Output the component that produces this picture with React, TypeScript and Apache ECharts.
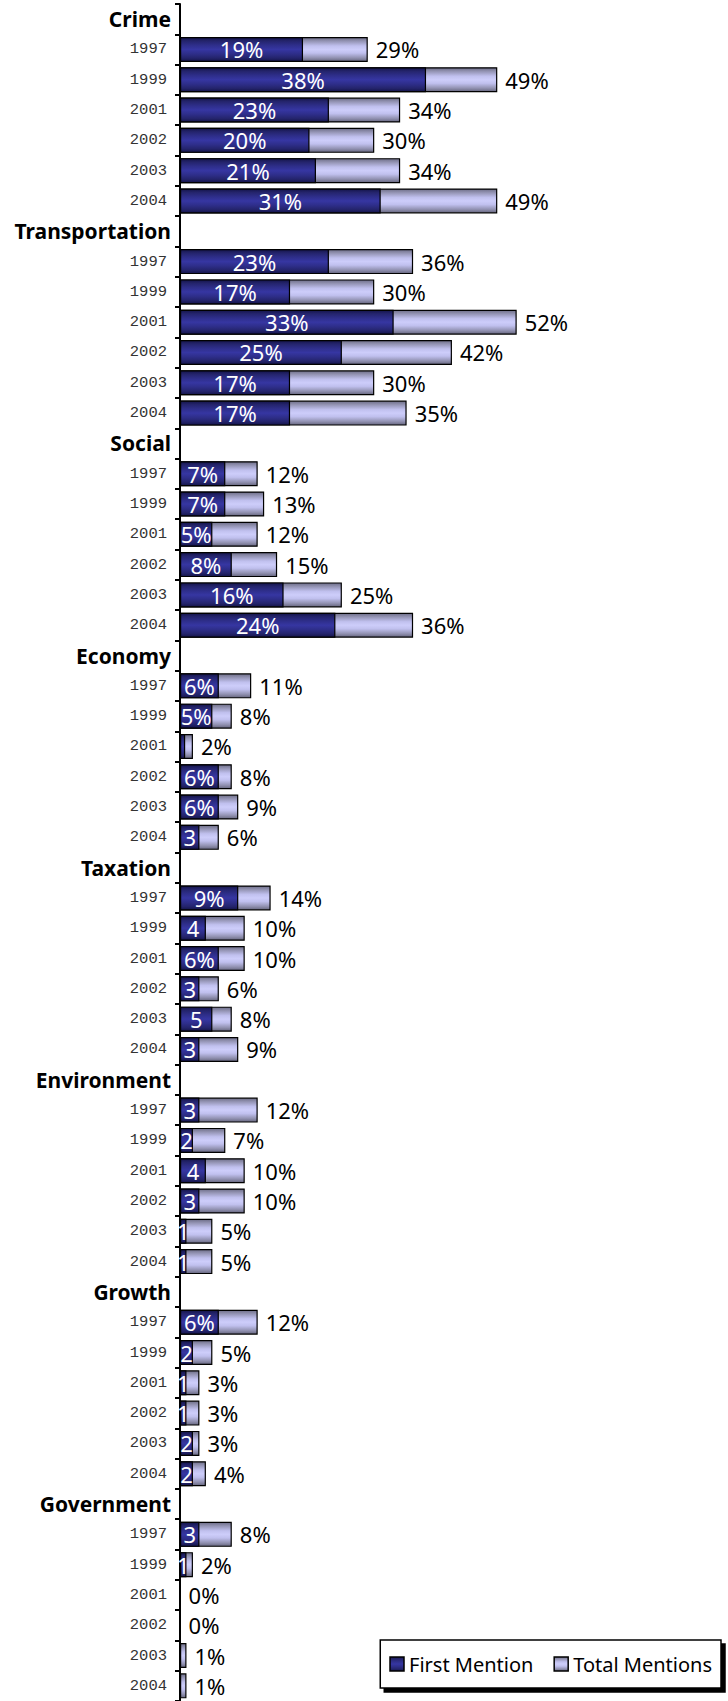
import React, { useEffect, useRef } from 'react';
import * as echarts from 'echarts';

const groups = ['Crime', 'Transportation', 'Social', 'Economy', 'Taxation', 'Environment', 'Growth', 'Government'];
const years = ['1997', '1999', '2001', '2002', '2003', '2004'];

const firstMention = [
  [19, 38, 23, 20, 21, 31],
  [23, 17, 33, 25, 17, 17],
  [7, 7, 5, 8, 16, 24],
  [6, 5, 0.8, 6, 6, 3],
  [9, 4, 6, 3, 5, 3],
  [3, 2, 4, 3, 1, 1],
  [6, 2, 1, 1, 2, 2],
  [3, 1, 0, 0, 0, 0],
];

const totalMentions = [
  [29, 49, 34, 30, 34, 49],
  [36, 30, 52, 42, 30, 35],
  [12, 13, 12, 15, 25, 36],
  [11, 8, 2, 8, 9, 6],
  [14, 10, 10, 6, 8, 9],
  [12, 7, 10, 10, 5, 5],
  [12, 5, 3, 3, 3, 4],
  [8, 2, 0, 0, 1, 1],
];

const firstLabels = [
  ['19%', '38%', '23%', '20%', '21%', '31%'],
  ['23%', '17%', '33%', '25%', '17%', '17%'],
  ['7%', '7%', '5%', '8%', '16%', '24%'],
  ['6%', '5%', '', '6%', '6%', '3'],
  ['9%', '4', '6%', '3', '5', '3'],
  ['3', '2', '4', '3', '1', '1'],
  ['6%', '2', '1', '1', '2', '2'],
  ['3', '1', '', '', '', ''],
];

const seriesNames = ['First Mention', 'Total Mentions'];

const FONT = '"Noto Sans", "DejaVu Sans", sans-serif';

export default function App() {
  const ref = useRef<HTMLDivElement>(null);

  useEffect(() => {
    document.body.style.margin = '0';
    const chart = echarts.init(ref.current!, null, { renderer: 'svg' });

    const categories = groups.flatMap((g) => ['#' + g, ...years.map((y) => g + '|' + y)]);
    const firstData = groups.flatMap((g, i) => ['-', ...firstMention[i]]);
    const totalData = groups.flatMap((g, i) => ['-', ...totalMentions[i]]);
    const labelsFlat = groups.flatMap((g, i) => ['', ...firstLabels[i]]);

    const darkGrad = new echarts.graphic.LinearGradient(0, 0, 0, 1, [
      { offset: 0, color: '#14144a' },
      { offset: 0.14, color: '#24246c' },
      { offset: 0.32, color: '#2e2e8a' },
      { offset: 0.5, color: '#3636a2' },
      { offset: 0.68, color: '#2e2e8a' },
      { offset: 0.86, color: '#24246c' },
      { offset: 1, color: '#14144a' },
    ]);
    const lightGrad = new echarts.graphic.LinearGradient(0, 0, 0, 1, [
      { offset: 0, color: '#6e6e88' },
      { offset: 0.15, color: '#9494b4' },
      { offset: 0.35, color: '#c0c0ee' },
      { offset: 0.5, color: '#cdcdfa' },
      { offset: 0.65, color: '#c0c0ee' },
      { offset: 0.85, color: '#9292b2' },
      { offset: 1, color: '#66667e' },
    ]);

    const option: any = {
      animation: false,
      textStyle: { fontFamily: FONT },
      legend: {
        data: seriesNames,
        right: 7,
        bottom: 13,
        orient: 'horizontal',
        backgroundColor: '#fff',
        borderColor: '#000',
        borderWidth: 1.5,
        borderRadius: 0,
        padding: [14, 9, 14, 9],
        itemGap: 20,
        itemWidth: 14,
        itemHeight: 14,
        icon: 'rect',
        shadowColor: '#000',
        shadowBlur: 0,
        shadowOffsetX: 4,
        shadowOffsetY: 4,
        itemStyle: { borderColor: '#000', borderWidth: 1.5 },
        textStyle: { fontSize: 20, color: '#000', fontFamily: FONT },
      },
      grid: { left: 180, top: 4, width: 518, height: 1700 },
      xAxis: { type: 'value', min: 0, max: 80, show: false },
      yAxis: {
        type: 'category',
        inverse: true,
        data: categories,
        axisLine: { show: true, lineStyle: { color: '#000', width: 2 } },
        axisTick: { show: true, length: 5, lineStyle: { color: '#000', width: 2 } },
        axisLabel: {
          margin: 9,
          interval: 0,
          formatter: (v: string) => (v.startsWith('#') ? '{g|' + v.slice(1) + '}' : '{y|' + v.split('|')[1] + '}'),
          rich: {
            g: { fontFamily: FONT, fontWeight: 'bold', fontSize: 21, color: '#000' },
            y: { fontFamily: '"Liberation Mono", "Courier New", monospace', fontSize: 15.5, color: '#333', padding: [0, 4, 0, 0] },
          },
        },
      },
      series: [
        {
          name: 'Total Mentions',
          type: 'bar',
          data: totalData,
          barWidth: 25,
          barGap: '-100%',
          itemStyle: { color: lightGrad, borderColor: '#000', borderWidth: 1.2 },
          label: {
            show: true,
            position: 'right',
            distance: 8,
            fontSize: 22,
            color: '#000',
            fontFamily: FONT,
            formatter: (p: any) => p.value + '%',
          },
          z: 2,
        },
        {
          name: 'First Mention',
          type: 'bar',
          data: firstData,
          barWidth: 25,
          barGap: '-100%',
          itemStyle: { color: darkGrad, borderColor: '#000', borderWidth: 1.2 },
          label: {
            show: true,
            position: 'inside',
            fontSize: 22,
            color: '#fff',
            fontFamily: FONT,
            formatter: (p: any) => labelsFlat[p.dataIndex] || '',
          },
          z: 3,
        },
      ],
    };

    chart.setOption(option);
    return () => chart.dispose();
  }, []);

  return <div ref={ref} style={{ width: 728, height: 1701 }} />;
}
